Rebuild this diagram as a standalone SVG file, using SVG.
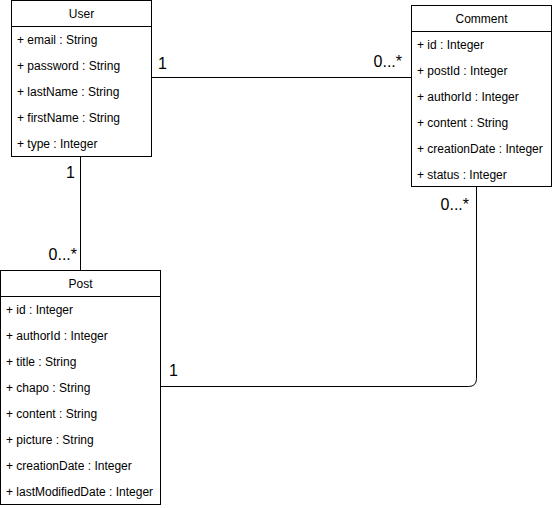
<svg xmlns="http://www.w3.org/2000/svg" width="552" height="508" viewBox="0 0 552 508">
<style>
.box{fill:#fff;stroke:#000;stroke-width:1}
.t{font-family:"Liberation Sans",Arial,sans-serif;font-size:12px;fill:#000}
.h{text-anchor:middle}
.lbl{font-family:"Liberation Sans",Arial,sans-serif;font-size:16px;fill:#000}
.c{fill:none;stroke:#000;stroke-width:1}
</style>
<rect width="552" height="508" fill="#fff"/>
<g id="connectors">
<path class="c" d="M151.5 77.5 H411.5"/>
<path class="c" d="M80.5 156.5 V270.5"/>
<path class="c" d="M160.5 386.5 H468.5 Q476.5 386.5 476.5 378.5 V186.5"/>
<text class="lbl" x="158" y="69">1</text>
<text class="lbl" x="402" y="67" text-anchor="end">0...*</text>
<text class="lbl" x="75" y="178" text-anchor="end">1</text>
<text class="lbl" x="77" y="260" text-anchor="end">0...*</text>
<text class="lbl" x="169" y="376">1</text>
<text class="lbl" x="469" y="210" text-anchor="end">0...*</text>
</g>
<g id="user">
<rect class="box" x="11.5" y="0.5" width="140" height="156"/>
<path class="c" d="M11.5 26.5 H151.5"/>
<text class="t h" x="81.5" y="18">User</text>
<text class="t" x="17" y="44">+ email : String</text>
<text class="t" x="17" y="70">+ password : String</text>
<text class="t" x="17" y="96">+ lastName : String</text>
<text class="t" x="17" y="122">+ firstName : String</text>
<text class="t" x="17" y="148">+ type : Integer</text>
</g>
<g id="comment">
<rect class="box" x="411.5" y="5.5" width="140" height="181"/>
<path class="c" d="M411.5 31.5 H551.5"/>
<text class="t h" x="481.5" y="23">Comment</text>
<text class="t" x="417" y="49">+ id : Integer</text>
<text class="t" x="417" y="75">+ postId : Integer</text>
<text class="t" x="417" y="101">+ authorId : Integer</text>
<text class="t" x="417" y="127">+ content : String</text>
<text class="t" x="417" y="153">+ creationDate : Integer</text>
<text class="t" x="417" y="179">+ status : Integer</text>
</g>
<g id="post">
<rect class="box" x="0.5" y="270.5" width="160" height="234"/>
<path class="c" d="M0.5 296.5 H160.5"/>
<text class="t h" x="80.5" y="288">Post</text>
<text class="t" x="6" y="314">+ id : Integer</text>
<text class="t" x="6" y="340">+ authorId : Integer</text>
<text class="t" x="6" y="366">+ title : String</text>
<text class="t" x="6" y="392">+ chapo : String</text>
<text class="t" x="6" y="418">+ content : String</text>
<text class="t" x="6" y="444">+ picture : String</text>
<text class="t" x="6" y="470">+ creationDate : Integer</text>
<text class="t" x="6" y="496">+ lastModifiedDate : Integer</text>
</g>
</svg>
